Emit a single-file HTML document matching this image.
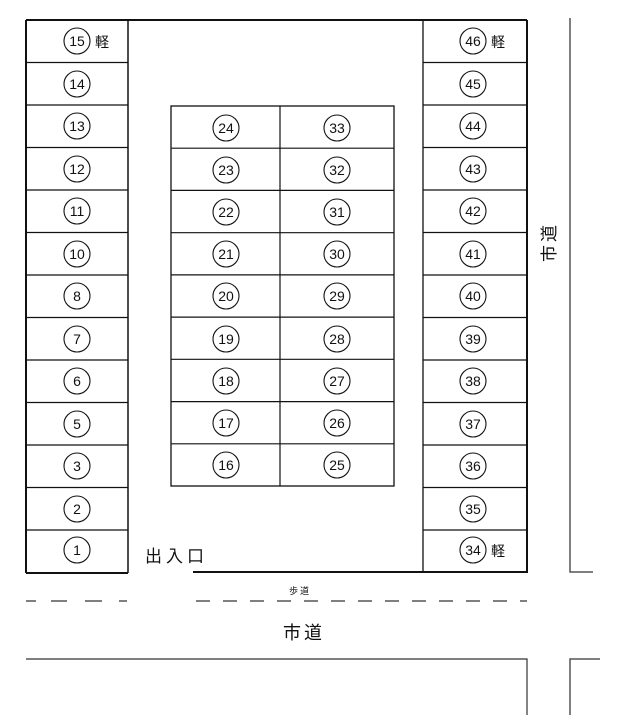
<!DOCTYPE html>
<html><head><meta charset="utf-8"><style>
html,body{margin:0;padding:0;background:#fff;}
svg{display:block;}
text{font-family:"Liberation Sans","Noto Sans CJK JP",sans-serif;fill:#111;}
.n{font-size:14px;text-anchor:middle;}
</style></head><body>
<svg width="618" height="725" viewBox="0 0 618 725" xmlns="http://www.w3.org/2000/svg">
<g stroke="#111" fill="none">
<!-- outer -->
<line x1="26" y1="20" x2="527" y2="20" stroke-width="2"/>
<line x1="26" y1="20" x2="26" y2="573" stroke-width="2"/>
<line x1="527" y1="20" x2="527" y2="573" stroke-width="2"/>
<line x1="26" y1="573" x2="128" y2="573" stroke-width="2"/>
<line x1="128" y1="20" x2="128" y2="573" stroke-width="1.5"/>
<line x1="193" y1="572" x2="527" y2="572" stroke-width="2"/>
<line x1="423" y1="20" x2="423" y2="573" stroke-width="1.3"/>
<!-- left rows -->
<g stroke-width="1.2">
<line x1="26" y1="62.5" x2="128" y2="62.5"/><line x1="26" y1="105" x2="128" y2="105"/>
<line x1="26" y1="147.5" x2="128" y2="147.5"/><line x1="26" y1="190" x2="128" y2="190"/>
<line x1="26" y1="232.5" x2="128" y2="232.5"/><line x1="26" y1="275" x2="128" y2="275"/>
<line x1="26" y1="317.5" x2="128" y2="317.5"/><line x1="26" y1="360" x2="128" y2="360"/>
<line x1="26" y1="402.5" x2="128" y2="402.5"/><line x1="26" y1="445" x2="128" y2="445"/>
<line x1="26" y1="487.5" x2="128" y2="487.5"/><line x1="26" y1="530" x2="128" y2="530"/>
<line x1="423" y1="62.5" x2="527" y2="62.5"/><line x1="423" y1="105" x2="527" y2="105"/>
<line x1="423" y1="147.5" x2="527" y2="147.5"/><line x1="423" y1="190" x2="527" y2="190"/>
<line x1="423" y1="232.5" x2="527" y2="232.5"/><line x1="423" y1="275" x2="527" y2="275"/>
<line x1="423" y1="317.5" x2="527" y2="317.5"/><line x1="423" y1="360" x2="527" y2="360"/>
<line x1="423" y1="402.5" x2="527" y2="402.5"/><line x1="423" y1="445" x2="527" y2="445"/>
<line x1="423" y1="487.5" x2="527" y2="487.5"/><line x1="423" y1="530" x2="527" y2="530"/>
</g>
<!-- center block -->
<rect x="171" y="106" width="223" height="380" stroke-width="1.3"/>
<line x1="280" y1="106" x2="280" y2="486" stroke-width="1.2"/>
<g stroke-width="1.2">
<line x1="171" y1="148.2" x2="394" y2="148.2"/><line x1="171" y1="190.4" x2="394" y2="190.4"/>
<line x1="171" y1="232.7" x2="394" y2="232.7"/><line x1="171" y1="274.9" x2="394" y2="274.9"/>
<line x1="171" y1="317.1" x2="394" y2="317.1"/><line x1="171" y1="359.3" x2="394" y2="359.3"/>
<line x1="171" y1="401.6" x2="394" y2="401.6"/><line x1="171" y1="443.8" x2="394" y2="443.8"/>
</g>
<!-- circles -->
<g stroke-width="1.1">
<circle cx="77" cy="41" r="13"/><circle cx="77" cy="84" r="13"/><circle cx="77" cy="126" r="13"/><circle cx="77" cy="169" r="13"/><circle cx="77" cy="211" r="13"/><circle cx="77" cy="254" r="13"/><circle cx="77" cy="296" r="13"/><circle cx="77" cy="339" r="13"/><circle cx="77" cy="381" r="13"/><circle cx="77" cy="424" r="13"/><circle cx="77" cy="466" r="13"/><circle cx="77" cy="509" r="13"/><circle cx="77" cy="550" r="13"/>
<circle cx="473" cy="41" r="13"/><circle cx="473" cy="84" r="13"/><circle cx="473" cy="126" r="13"/><circle cx="473" cy="169" r="13"/><circle cx="473" cy="211" r="13"/><circle cx="473" cy="254" r="13"/><circle cx="473" cy="296" r="13"/><circle cx="473" cy="339" r="13"/><circle cx="473" cy="381" r="13"/><circle cx="473" cy="424" r="13"/><circle cx="473" cy="466" r="13"/><circle cx="473" cy="509" r="13"/><circle cx="473" cy="550" r="13"/>
<circle cx="226" cy="128" r="13"/><circle cx="226" cy="170" r="13"/><circle cx="226" cy="212" r="13"/><circle cx="226" cy="254" r="13"/><circle cx="226" cy="296" r="13"/><circle cx="226" cy="339" r="13"/><circle cx="226" cy="381" r="13"/><circle cx="226" cy="423" r="13"/><circle cx="226" cy="465" r="13"/>
<circle cx="337" cy="128" r="13"/><circle cx="337" cy="170" r="13"/><circle cx="337" cy="212" r="13"/><circle cx="337" cy="254" r="13"/><circle cx="337" cy="296" r="13"/><circle cx="337" cy="339" r="13"/><circle cx="337" cy="381" r="13"/><circle cx="337" cy="423" r="13"/><circle cx="337" cy="465" r="13"/>
</g>
<!-- road -->
<line x1="26" y1="601" x2="130" y2="601" stroke-width="1.3" stroke="#333" stroke-dasharray="10,15,16,18,17,17,8,100"/>
<line x1="196" y1="601" x2="527" y2="601" stroke-width="1.3" stroke="#333" stroke-dasharray="14,13"/>
<polyline points="26,659 527,659 527,715" stroke-width="1.2" stroke="#333"/>
<polyline points="570,18 570,572 593,572" stroke-width="1.5" stroke="#555"/>
<polyline points="600,659 570,659 570,715" stroke-width="1.5" stroke="#555"/>
</g>
<g class="n">
<text x="77" y="46" class="n">15</text><text x="77" y="89" class="n">14</text><text x="77" y="131" class="n">13</text><text x="77" y="174" class="n">12</text><text x="77" y="216" class="n">11</text><text x="77" y="259" class="n">10</text><text x="77" y="301" class="n">8</text><text x="77" y="344" class="n">7</text><text x="77" y="386" class="n">6</text><text x="77" y="429" class="n">5</text><text x="77" y="471" class="n">3</text><text x="77" y="514" class="n">2</text><text x="77" y="555" class="n">1</text>
<text x="473" y="46" class="n">46</text><text x="473" y="89" class="n">45</text><text x="473" y="131" class="n">44</text><text x="473" y="174" class="n">43</text><text x="473" y="216" class="n">42</text><text x="473" y="259" class="n">41</text><text x="473" y="301" class="n">40</text><text x="473" y="344" class="n">39</text><text x="473" y="386" class="n">38</text><text x="473" y="429" class="n">37</text><text x="473" y="471" class="n">36</text><text x="473" y="514" class="n">35</text><text x="473" y="555" class="n">34</text>
<text x="226" y="133" class="n">24</text><text x="226" y="175" class="n">23</text><text x="226" y="217" class="n">22</text><text x="226" y="259" class="n">21</text><text x="226" y="301" class="n">20</text><text x="226" y="344" class="n">19</text><text x="226" y="386" class="n">18</text><text x="226" y="428" class="n">17</text><text x="226" y="470" class="n">16</text>
<text x="337" y="133" class="n">33</text><text x="337" y="175" class="n">32</text><text x="337" y="217" class="n">31</text><text x="337" y="259" class="n">30</text><text x="337" y="301" class="n">29</text><text x="337" y="344" class="n">28</text><text x="337" y="386" class="n">27</text><text x="337" y="428" class="n">26</text><text x="337" y="470" class="n">25</text>
</g>
<text x="95" y="47" font-size="14">軽</text>
<text x="491" y="47" font-size="14">軽</text>
<text x="491" y="556" font-size="14">軽</text>
<text x="145" y="562" font-size="17" letter-spacing="4">出入口</text>
<text x="289" y="594" font-size="9" letter-spacing="2">歩道</text>
<text x="283" y="639" font-size="18" letter-spacing="3">市道</text>
<text transform="translate(555,262) rotate(-90)" font-size="17" letter-spacing="3">市道</text>
</svg>
</body></html>
